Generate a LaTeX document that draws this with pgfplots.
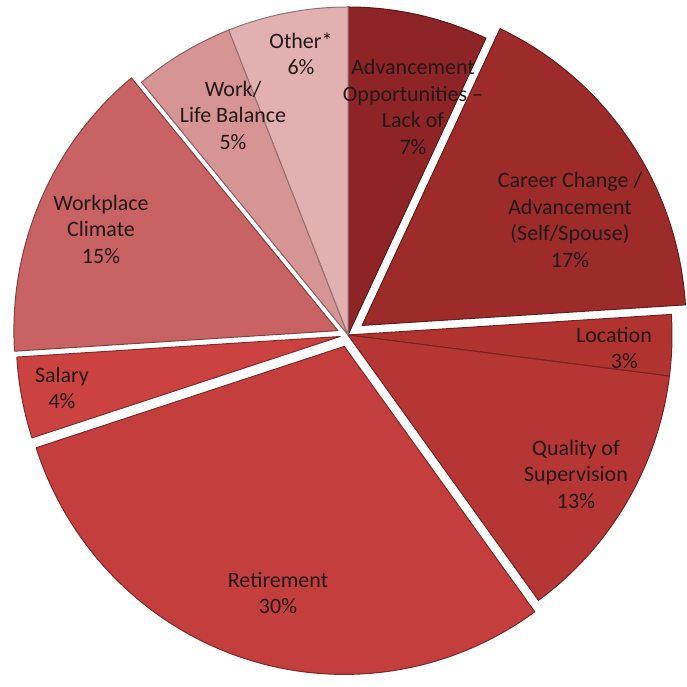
\documentclass[border=0pt]{standalone}
\usepackage{fontspec}
\setmainfont{Carlito}
\usepackage{pgfplots}
\usepackage{pgfplotstable}
\pgfplotsset{compat=1.18}

\definecolor{cA}{HTML}{8E2426}
\definecolor{cB}{HTML}{9C2B2A}
\definecolor{cC}{HTML}{B03330}
\definecolor{cD}{HTML}{B53634}
\definecolor{cE}{HTML}{C33E3C}
\definecolor{cF}{HTML}{CB4240}
\definecolor{cG}{HTML}{C96363}
\definecolor{cH}{HTML}{D69495}
\definecolor{cI}{HTML}{E2B0B0}
\definecolor{txt}{HTML}{231818}

% share (%), explode offset (px), colour
\pgfplotstableread{
pct ex col
7  0  cA
17 17 cB
3  0  cC
13 0  cD
30 12 cE
4  8  cF
15 11 cG
5  0  cH
6  0  cI
}\piedata

\begin{document}
\begin{tikzpicture}
\begin{axis}[
  x=1bp, y=1bp,
  xmin=0, xmax=687, ymin=0, ymax=687,
  hide axis, clip=false,
]
\pgfmathsetmacro\cum{0}
\pgfplotsforeachungrouped \i in {0,...,8}{%
  \pgfplotstablegetelem{\i}{pct}\of\piedata \let\slicepct\pgfplotsretval
  \pgfplotstablegetelem{\i}{ex}\of\piedata \let\sliceex\pgfplotsretval
  \pgfplotstablegetelem{\i}{col}\of\piedata \let\slicecol\pgfplotsretval
  \pgfmathsetmacro\aS{90-3.6*\cum}%
  \pgfmathsetmacro\aE{90-3.6*(\cum+\slicepct)}%
  \pgfmathsetmacro\aM{(\aS+\aE)/2}%
  \pgfmathsetmacro\ox{348+\sliceex*cos(\aM)}%
  \pgfmathsetmacro\oy{352+\sliceex*sin(\aM)}%
  \pgfmathsetmacro\sx{\ox+324*cos(\aS)}%
  \pgfmathsetmacro\sy{\oy+328*sin(\aS)}%
  \edef\temp{\noexpand\fill[\slicecol, draw=\slicecol!65!black, line width=1bp, line join=round]
    (axis cs:\ox,\oy) -- (axis cs:\sx,\sy)
    arc[start angle=\aS, end angle=\aE, x radius=324bp, y radius=328bp] -- cycle;}%
  \temp
  \pgfmathsetmacro\cum{\cum+\slicepct}%
}
\tikzset{lbl/.style={align=center, text=txt, inner sep=0pt, font=\fontsize{22bp}{26.5bp}\selectfont}}
\node[lbl] at (axis cs:413,580) {Advancement\\Opportunities \textendash\\Lack of\\7\%};
\node[lbl] at (axis cs:570,467) {Career Change /\\Advancement\\(Self/Spouse)\\17\%};
\node[lbl] at (axis cs:614,339) {Location\\\hphantom{Lo}3\%};
\node[lbl] at (axis cs:576,213) {Quality of\\Supervision\\13\%};
\node[lbl] at (axis cs:278,94) {Retirement\\30\%};
\node[lbl] at (axis cs:62,299) {Salary\\4\%};
\node[lbl] at (axis cs:101,458) {Workplace\\Climate\\15\%};
\node[lbl] at (axis cs:233,572) {Work/\\Life Balance\\5\%};
\node[lbl] at (axis cs:301,633) {Other*\\6\%};
\end{axis}
\pgfresetboundingbox
\path (current axis.south west) rectangle (current axis.north east);
\end{tikzpicture}
\end{document}
